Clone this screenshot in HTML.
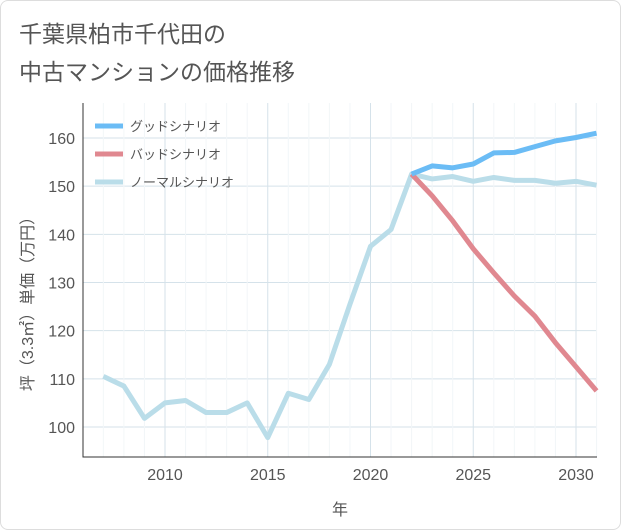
<!DOCTYPE html>
<html><head><meta charset="utf-8"><style>
body{margin:0;background:#fff;font-family:"Liberation Sans","Noto Sans CJK JP",sans-serif;}
#wrap{position:relative;width:619px;height:528px;border:1px solid #ddd;border-radius:8px;overflow:hidden;}
.t{position:absolute;left:18px;font-size:23px;color:#555;}
</style></head><body>
<div id="wrap">
<div class="t" style="top:14px">千葉県柏市千代田の</div>
<div class="t" style="top:52px">中古マンションの価格推移</div>
<svg id="c" width="621" height="530" style="position:absolute;left:-1px;top:-1px"></svg>
</div>
<script>
const years=[2007,2008,2009,2010,2011,2012,2013,2014,2015,2016,2017,2018,2019,2020,2021,2022,2023,2024,2025,2026,2027,2028,2029,2030,2031];
const normal=[110.5,108.5,101.8,105,105.5,103,103,105,97.8,107,105.7,113,125.5,137.5,141,152.5,151.5,152,151,151.8,151.2,151.2,150.6,151,150.2];
const futureYears=[2022,2023,2024,2025,2026,2027,2028,2029,2030,2031];
const good=[152.5,154.2,153.8,154.6,156.9,157,158.2,159.4,160.1,161];
const bad=[152.5,148,142.8,137,132,127.2,123,117.5,112.5,107.5];
const xTicks=[2010,2015,2020,2025,2030];
const yTicks=[100,110,120,130,140,150,160];
const L=83,R=597,T=103,B=457;
const x=v=>165+(v-2010)*20.55;
const y=v=>427-(v-100)*4.817;
const s=document.getElementById('c');const NS='http://www.w3.org/2000/svg';
function el(t,a,p){const e=document.createElementNS(NS,t);for(const k in a)e.setAttribute(k,a[k]);(p||s).appendChild(e);return e;}
yTicks.forEach(v=>{const g=el('line',{x1:L,x2:R,y1:y(v),y2:y(v),stroke:'#d5e2ea','stroke-width':1});

const t=el('text',{x:L-8,y:y(v)+6,'text-anchor':'end','font-size':16,fill:'#555'});t.textContent=v;
});
for(let yr=2007;yr<=2031;yr++){const g=el('line',{x1:x(yr),x2:x(yr),y1:T,y2:B,stroke:xTicks.includes(yr)?'#d5e2ea':'#f2f6f8','stroke-width':1});
}
xTicks.forEach(v=>{const t=el('text',{x:x(v),y:B+23,'text-anchor':'middle','font-size':16,fill:'#555'});t.textContent=v;
});
const ax=el('path',{d:`M${L} ${T}V${B}H${R}`,fill:'none',stroke:'#333','stroke-width':1});

const xt=el('text',{x:340,y:515,'text-anchor':'middle','font-size':16,fill:'#555'});xt.textContent='年';

const yt=el('text',{x:0,y:0,'text-anchor':'middle','font-size':16,fill:'#555',transform:'translate(33,300) rotate(-90)'});yt.textContent='坪（3.3㎡）単価（万円）';

function line(xs,vs,c,n){const p=el('path',{d:xs.map((v,i)=>(i?'L':'M')+x(v)+' '+y(vs[i])).join(''),fill:'none',stroke:c,'stroke-width':5,'stroke-linejoin':'round'});
}
line(years,normal,'#badde9','normal-line');line(futureYears,bad,'#e08890','bad-line');line(futureYears,good,'#6bbcf5','good-line');
[['グッドシナリオ','#6bbcf5'],['バッドシナリオ','#e08890'],['ノーマルシナリオ','#badde9']].forEach((d,i)=>{
const g=el('g',{});
el('line',{x1:95,x2:123,y1:126+i*28,y2:126+i*28,stroke:d[1],'stroke-width':5},g);
const t=el('text',{x:130,y:131+i*28,'font-size':13,fill:'#555'},g);t.textContent=d[0];});
</script></body></html>
